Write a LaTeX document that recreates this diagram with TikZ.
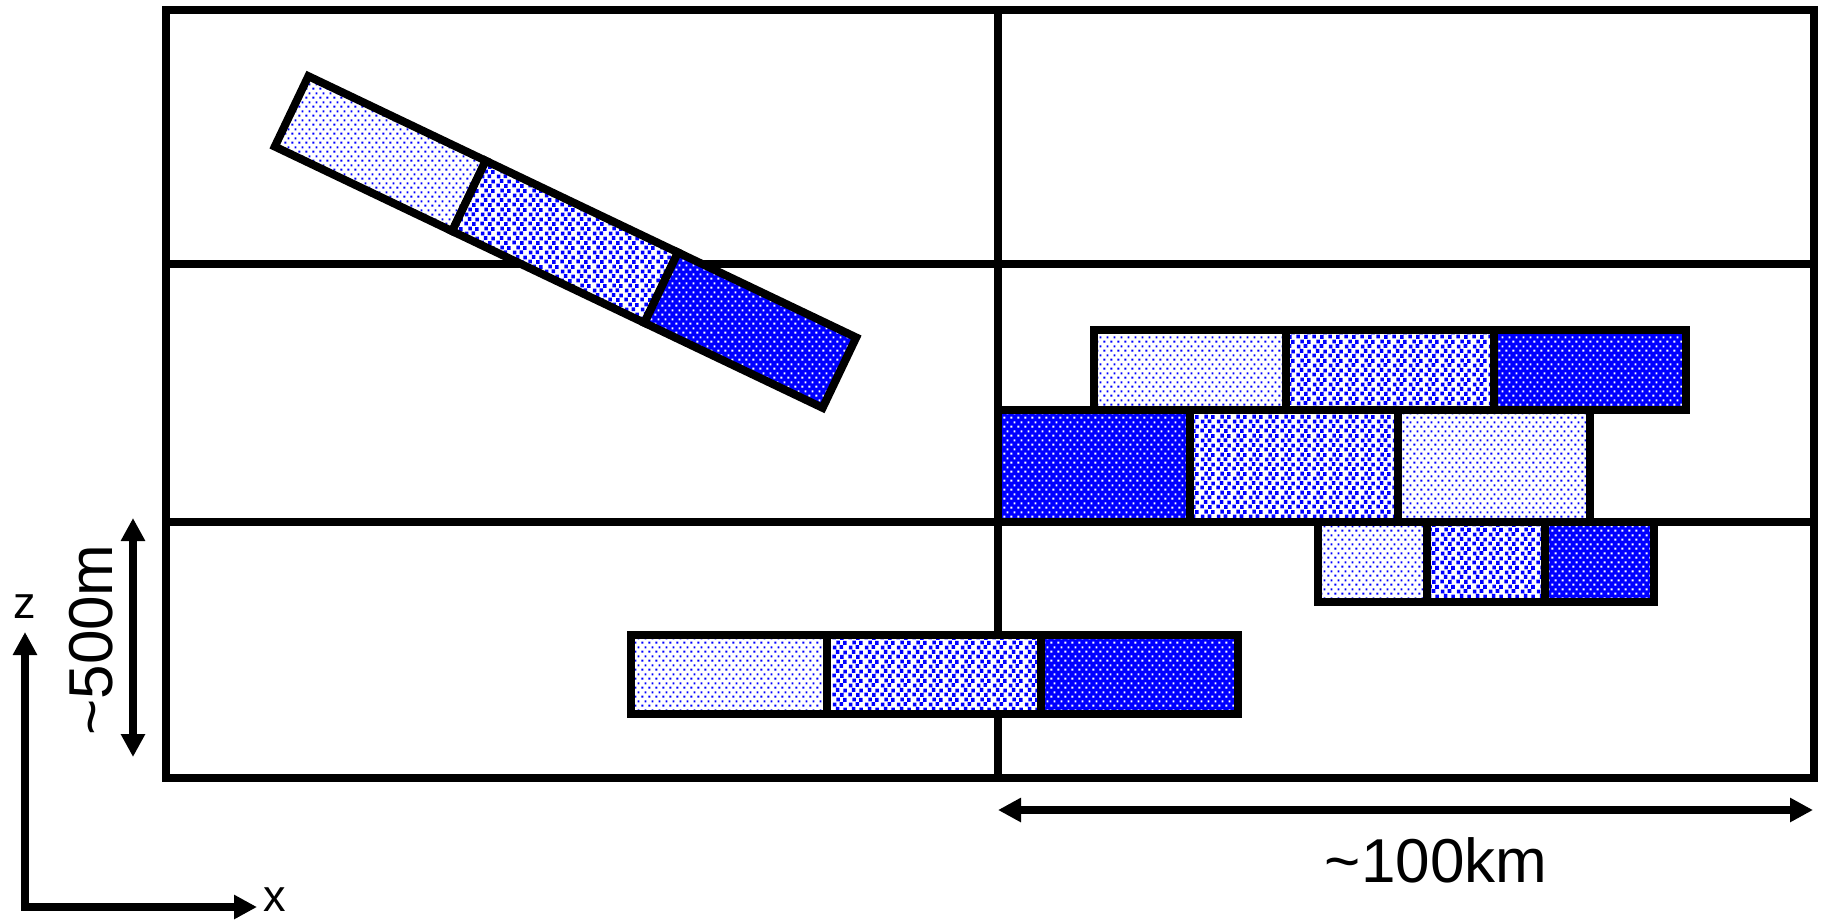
\documentclass[tikz,border=0pt]{standalone}
\usepackage{fontspec}
\setmainfont{Liberation Sans}
\usetikzlibrary{arrows.meta,patterns}

\pgfdeclarepatternformonly{lightdots}{\pgfqpoint{0pt}{0pt}}{\pgfqpoint{6.6pt}{8.6pt}}{\pgfqpoint{6.6pt}{8.6pt}}{%
  \pgfpathrectangle{\pgfqpoint{0.5pt}{0.5pt}}{\pgfqpoint{2pt}{2pt}}%
  \pgfpathrectangle{\pgfqpoint{3.8pt}{4.8pt}}{\pgfqpoint{2pt}{2pt}}%
  \pgfusepath{fill}}
\pgfdeclarepatternformonly{medsquares}{\pgfqpoint{0pt}{0pt}}{\pgfqpoint{16pt}{18.8pt}}{\pgfqpoint{16pt}{18.8pt}}{%
  \pgfpathrectangle{\pgfqpoint{0.3pt}{0.6pt}}{\pgfqpoint{3.8pt}{3.8pt}}%
  \pgfpathrectangle{\pgfqpoint{8.5pt}{0.2pt}}{\pgfqpoint{3.8pt}{3.8pt}}%
  \pgfpathrectangle{\pgfqpoint{4.0pt}{5.2pt}}{\pgfqpoint{3.8pt}{3.8pt}}%
  \pgfpathrectangle{\pgfqpoint{12.0pt}{4.6pt}}{\pgfqpoint{3.8pt}{3.8pt}}%
  \pgfpathrectangle{\pgfqpoint{0.8pt}{9.6pt}}{\pgfqpoint{3.8pt}{3.8pt}}%
  \pgfpathrectangle{\pgfqpoint{8.1pt}{10.0pt}}{\pgfqpoint{3.8pt}{3.8pt}}%
  \pgfpathrectangle{\pgfqpoint{4.5pt}{14.6pt}}{\pgfqpoint{3.8pt}{3.8pt}}%
  \pgfpathrectangle{\pgfqpoint{11.8pt}{14.2pt}}{\pgfqpoint{3.8pt}{3.8pt}}%
  \pgfusepath{fill}}
\pgfdeclarepatternformonly{darkdots}{\pgfqpoint{0pt}{0pt}}{\pgfqpoint{6.6pt}{8.6pt}}{\pgfqpoint{6.6pt}{8.6pt}}{%
  \pgfpathrectangle{\pgfqpoint{0.5pt}{0.5pt}}{\pgfqpoint{2pt}{2pt}}%
  \pgfpathrectangle{\pgfqpoint{3.8pt}{4.8pt}}{\pgfqpoint{2pt}{2pt}}%
  \pgfusepath{fill}}

\tikzset{
  gridline/.style={line width=8pt, line cap=rect},
  cell/.style={draw=black, line width=8pt, line join=miter},
  lightcell/.style={cell, preaction={fill=white}, pattern=lightdots, pattern color=blue},
  medcell/.style={cell, preaction={fill=white}, pattern=medsquares, pattern color=blue},
  darkcell/.style={cell, preaction={fill=blue}, pattern=darkdots, pattern color=white},
  dimarrow/.style={line width=7.5pt, {Triangle[length=23pt,width=23pt]}-{Triangle[length=23pt,width=23pt]}},
  bigtext/.style={font=\fontsize{62}{70}\selectfont, inner sep=0pt},
  axtext/.style={font=\fontsize{45}{48}\selectfont, inner sep=0pt}
}

\begin{document}
\begin{tikzpicture}[x=1pt, y=-1pt]
\useasboundingbox (0,0) rectangle (1825,922);

% grid
\draw[gridline] (166,10) rectangle (1814,778);
\draw[gridline] (166,264) -- (1814,264);
\draw[gridline] (166,522) -- (1814,522);
\draw[gridline] (998,10) -- (998,778);

% tilted bar
\begin{scope}[shift={(565.5,242)}, rotate=-25.5]
  \draw[lightcell] (-303.5,-39) rectangle (-107,39);
  \draw[medcell] (-107,-39) rectangle (106,39);
  \draw[darkcell] (106,-39) rectangle (303.5,39);
\end{scope}

% right rows
\draw[lightcell] (1094,330) rectangle (1286,410);
\draw[medcell] (1286,330) rectangle (1494,410);
\draw[darkcell] (1494,330) rectangle (1686,410);

\draw[darkcell] (998,410) rectangle (1190,522);
\draw[medcell] (1190,410) rectangle (1398,522);
\draw[lightcell] (1398,410) rectangle (1590,522);

\draw[lightcell] (1318,522) rectangle (1427,602);
\draw[medcell] (1427,522) rectangle (1545,602);
\draw[darkcell] (1545,522) rectangle (1654,602);

% bottom row
\draw[lightcell] (631,635) rectangle (827,714);
\draw[medcell] (827,635) rectangle (1041,714);
\draw[darkcell] (1041,635) rectangle (1238,714);

% dimension arrows
\coordinate (v1) at (133,518);
\coordinate (v2) at (133,757);
\draw[dimarrow] (v1) -- (v2);
\node[bigtext, rotate=90, anchor=base] (lz) at (112,640) {\textasciitilde500m};

\coordinate (h1) at (998,810);
\coordinate (h2) at (1813,810);
\draw[dimarrow] (h1) -- (h2);
\node[bigtext, anchor=base] (lx) at (1436,882) {\textasciitilde100km};

% axes
\coordinate (o) at (25,907);
\coordinate (zt) at (25,632);
\coordinate (xt) at (257,907);
\draw[dimarrow, line join=miter] (zt) -- (o) -- (xt);
\node[axtext] (zlab) at (25,607) {z};
\node[axtext] (xlab) at (275,900) {x};
\end{tikzpicture}
\end{document}
